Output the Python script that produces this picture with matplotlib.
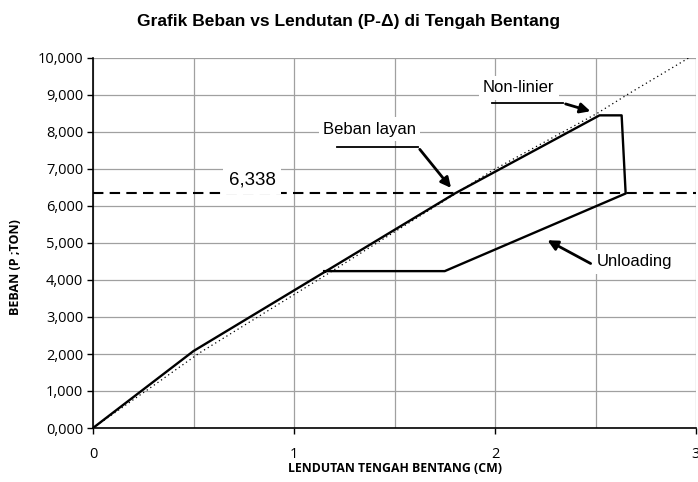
import matplotlib
matplotlib.use('Agg')
import matplotlib.pyplot as plt
from matplotlib.ticker import MultipleLocator

# P-delta curve (loading then unloading)
lendutan = [0.0, 0.50, 1.80, 2.52, 2.63, 2.65, 1.75, 1.15]
beban = [0, 2080, 6338, 8450, 8450, 6338, 4240, 4240]

# reference curve (dotted)
ref_x = [0.0, 0.32, 0.53, 1.16, 1.99, 2.51, 2.67, 2.96, 3.0]
ref_y = [0, 1220, 2030, 4140, 6970, 8510, 9050, 9990, 10120]

beban_layan = 6338
yticks = [0, 1000, 2000, 3000, 4000, 5000, 6000, 7000, 8000, 9000, 10000]
ytick_labels = ['0,000', '1,000', '2,000', '3,000', '4,000', '5,000',
                '6,000', '7,000', '8,000', '9,000', '10,000']
xticks = [0, 1, 2, 3]

fig = plt.figure(figsize=(6.98, 4.82), dpi=100)
ax = fig.add_axes([93/698, 1-428/482, 603/698, 370/482])

ax.plot(ref_x, ref_y, color='black', linestyle=(0, (1, 2.5)), linewidth=0.9, zorder=3)
ax.plot(lendutan, beban, color='black', linewidth=1.7, zorder=4)
ax.axhline(beban_layan, color='black', linestyle=(0, (5, 3)), linewidth=1.5, zorder=3)

ax.set_xlim(0, 3)
ax.set_ylim(0, 10000)
ax.set_xticks(xticks)
ax.xaxis.set_minor_locator(MultipleLocator(0.5))
ax.set_yticks(yticks)
ax.set_yticklabels(ytick_labels)
ax.grid(True, which='both', color='#a0a0a0', linewidth=0.9, zorder=0)
ax.set_axisbelow(True)
ax.tick_params(axis='x', which='major', direction='out', length=4, pad=10,
               labelsize=10.5, width=1)
ax.tick_params(axis='x', which='minor', length=0)
ax.tick_params(axis='y', direction='out', length=4, labelsize=10.5, width=1, pad=3)
for lab in ax.get_xticklabels() + ax.get_yticklabels():
    lab.set_fontfamily('Open Sans')
ax.spines['top'].set_visible(False)
ax.spines['right'].set_visible(False)
ax.spines['left'].set_linewidth(1.2)
ax.spines['bottom'].set_linewidth(1.2)

ax.set_xlabel('LENDUTAN TENGAH BENTANG (CM)', fontfamily='Open Sans',
              fontweight='bold', fontsize=8.8, labelpad=0)
ax.set_ylabel('BEBAN (P ;TON)', fontfamily='Open Sans', fontweight='bold',
              fontsize=9)
ax.yaxis.set_label_coords(-0.117, 0.435)
fig.suptitle('Grafik Beban vs Lendutan (P-Δ) di Tengah Bentang',
             fontfamily='Liberation Sans', fontweight='bold', fontsize=12.5, y=0.97)

box = dict(facecolor='white', edgecolor='none', pad=3)
arrow = dict(arrowstyle='-|>', color='black', lw=2, mutation_scale=15)

ax.text(0.675, 6700, '6,338', fontfamily='Liberation Sans', fontsize=13.5,
        ha='left', va='center', bbox=dict(facecolor='white', edgecolor='none', pad=4),
        zorder=5)

# Beban layan callout
ax.text(1.144, 8080, 'Beban layan', fontfamily='Liberation Sans', fontsize=12,
        ha='left', va='center', bbox=box, zorder=5)
ax.plot([1.214, 1.617], [7590, 7590], color='black', linewidth=1.3, zorder=5)
ax.annotate('', xy=(1.79, 6430), xytext=(1.617, 7590), arrowprops=arrow, zorder=5)

# Non-linier callout
ax.text(1.94, 9190, 'Non-linier', fontfamily='Liberation Sans', fontsize=12,
        ha='left', va='center', bbox=box, zorder=5)
ax.plot([1.985, 2.338], [8780, 8780], color='black', linewidth=1.3, zorder=5)
ax.annotate('', xy=(2.488, 8540), xytext=(2.338, 8780), arrowprops=arrow, zorder=5)

# Unloading callout
ax.text(2.507, 4490, 'Unloading', fontfamily='Liberation Sans', fontsize=12,
        ha='left', va='center', bbox=box, zorder=5)
ax.annotate('', xy=(2.249, 5110), xytext=(2.488, 4410), arrowprops=arrow, zorder=5)

plt.savefig('out.png', dpi=100)
plt.close('all')
